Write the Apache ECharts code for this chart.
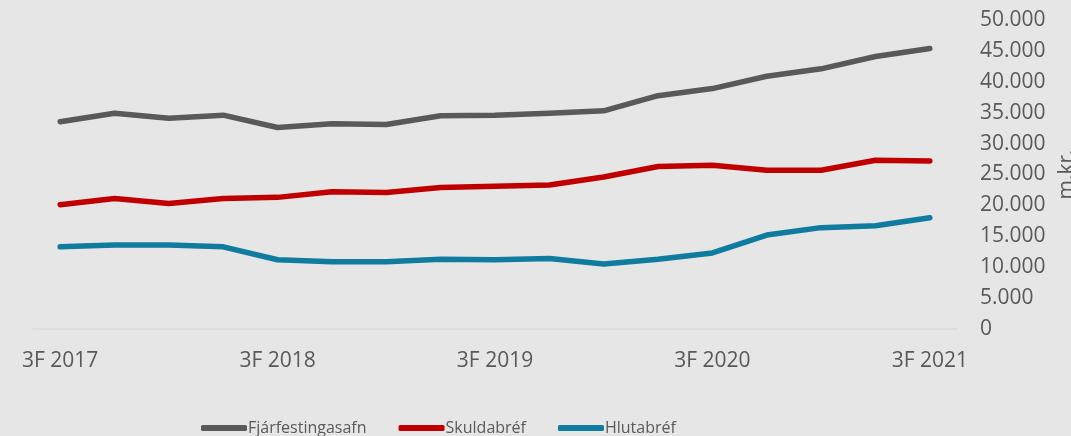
<!DOCTYPE html>
<html>
<head>
<meta charset="utf-8">
<script src="https://cdn.jsdelivr.net/npm/echarts@6/dist/echarts.min.js"></script>
<style>
  html, body { margin: 0; padding: 0; background: #e6e6e6; }
  #chart { width: 1071px; height: 436px; }
</style>
</head>
<body>
<div id="chart"></div>
<script>
  // ársfjórðungar 3F 2017 - 3F 2021
  const categories = ['3F 2017','4F 2017','1F 2018','2F 2018','3F 2018','4F 2018','1F 2019','2F 2019','3F 2019',
    '4F 2019','1F 2020','2F 2020','3F 2020','4F 2020','1F 2021','2F 2021','3F 2021'];
  const fjarfestingasafn = [33550, 34900, 34100, 34600, 32600, 33200, 33100, 34500, 34600,
    34900, 35300, 37750, 38900, 40900, 42100, 44100, 45400];
  const skuldabref = [20100, 21100, 20300, 21100, 21300, 22200, 22100, 22900, 23100,
    23300, 24600, 26300, 26500, 25700, 25700, 27300, 27200];
  const hlutabref = [13300, 13600, 13600, 13300, 11200, 10900, 10900, 11300, 11200,
    11400, 10500, 11300, 12300, 15200, 16400, 16700, 18000];
  const yTicks = { min: 0, max: 50000, interval: 5000 };

  const textColor = '#595959';
  const font = 'Open Sans';

  let myChart = echarts.init(document.getElementById('chart'));

  let seriesList = [
    { name: 'Fjárfestingasafn', data: fjarfestingasafn, color: '#595959' },
    { name: 'Skuldabréf', data: skuldabref, color: '#c00000' },
    { name: 'Hlutabréf', data: hlutabref, color: '#0f7b9f' }
  ];
  let series = seriesList.map(function (s) {
    return {
      name: s.name,
      type: 'line',
      data: s.data,
      symbol: 'none',
      smooth: false,
      itemStyle: { color: s.color },
      lineStyle: { color: s.color, width: 5.5, cap: 'round', join: 'round' }
    };
  });

  let option = {
    backgroundColor: '#e6e6e6',
    animation: false,
    grid: { left: 33, right: 114, top: 20, bottom: 107, outerBoundsMode: 'none' },
    legend: {
      left: 196,
      top: 415,
      icon: 'roundRect',
      itemWidth: 46,
      itemHeight: 6,
      itemGap: 32,
      textStyle: { color: textColor, fontFamily: font, fontSize: 16, padding: [0, 0, 0, -4] },
      data: seriesList.map(function (s) { return s.name; })
    },
    xAxis: {
      type: 'category',
      data: categories,
      boundaryGap: true,
      axisLine: { show: true, lineStyle: { color: '#d9d9d9', width: 1.5 } },
      axisTick: { show: false },
      axisLabel: {
        color: textColor,
        fontFamily: font,
        fontSize: 21,
        margin: 22,
        interval: 3
      }
    },
    yAxis: {
      type: 'value',
      position: 'right',
      min: yTicks.min,
      max: yTicks.max,
      interval: yTicks.interval,
      name: 'm.kr.',
      nameLocation: 'middle',
      nameRotate: 90,
      nameGap: 97,
      nameTextStyle: { color: textColor, fontFamily: font, fontSize: 21 },
      axisLine: { show: false },
      axisTick: { show: false },
      splitLine: { show: false },
      axisLabel: {
        color: textColor,
        fontFamily: font,
        fontSize: 21,
        margin: 23,
        formatter: function (v) {
          return String(v).replace(/\B(?=(\d{3})+(?!\d))/g, '.');
        }
      }
    },
    series: series
  };

  myChart.setOption(option);
</script>
</body>
</html>
